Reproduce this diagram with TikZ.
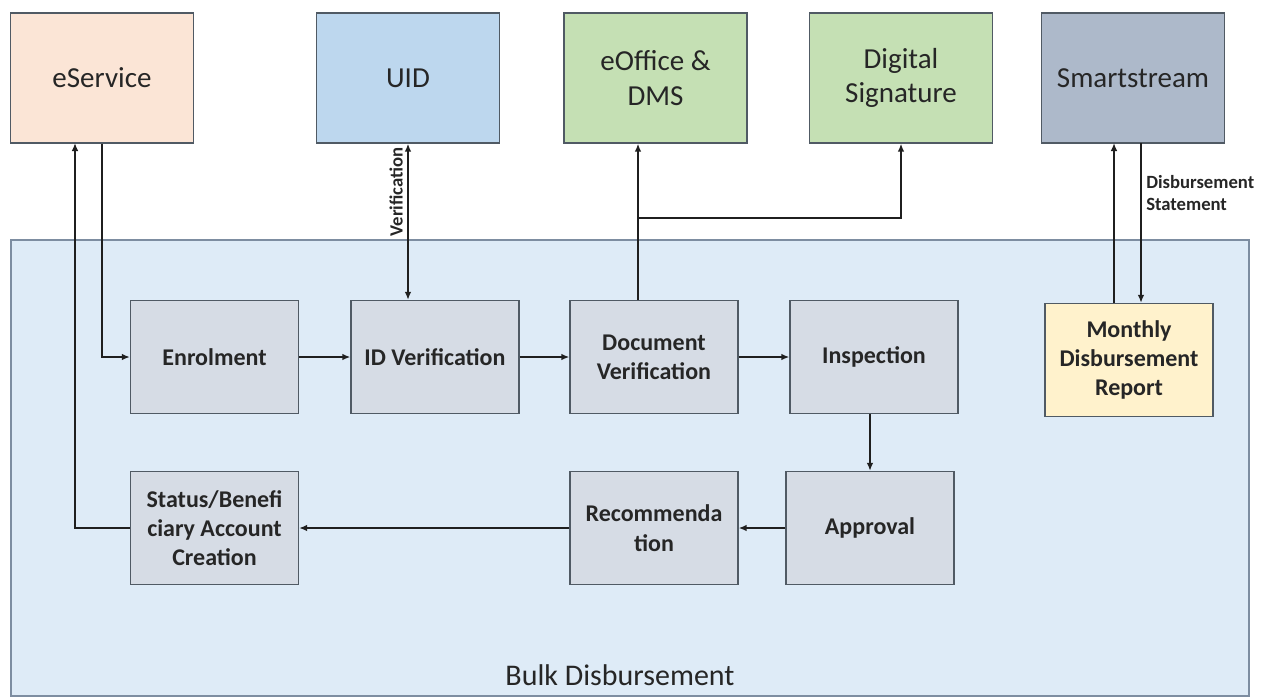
\documentclass[tikz,border=0pt]{standalone}
\usepackage{fontspec}
\setmainfont{Carlito}
\usepackage{tikz}
\usetikzlibrary{arrows.meta}
\usepackage{xcolor}
\definecolor{peach}{HTML}{FBE5D6}
\definecolor{uidblue}{HTML}{BDD7EE}
\definecolor{sysgreen}{HTML}{C5E0B4}
\definecolor{smartgray}{HTML}{ADB9CA}
\definecolor{bulkfill}{HTML}{DEEBF7}
\definecolor{bulkline}{HTML}{7D8DA1}
\definecolor{stepfill}{HTML}{D6DCE5}
\definecolor{monthfill}{HTML}{FFF2CC}
\definecolor{boxline}{HTML}{505A64}
\definecolor{arrline}{HTML}{1F1F1F}
\definecolor{txt}{HTML}{262626}

\begin{document}
\begin{tikzpicture}[x=0.75pt,y=-0.75pt,
  sysbox/.style={draw=boxline,line width=1pt,minimum width=137.25pt,minimum height=97.5pt,
    align=center,text=txt,font=\fontsize{21.75}{26}\selectfont},
  stepbox/.style={draw=boxline,fill=stepfill,line width=1pt,minimum width=126pt,minimum height=84.75pt,
    align=center,text=txt,font=\fontsize{18}{22}\selectfont\bfseries},
  arr/.style={draw=arrline,line width=1.2pt,-{Latex[length=6pt,width=5pt]}},
  lbl/.style={text=txt,font=\fontsize{14}{16.5}\selectfont\bfseries}]
  \fill[white] (0,0) rectangle (1263,697);
  \useasboundingbox (0,0) rectangle (1263,697);

  \node (bulk) [draw=bulkline,fill=bulkfill,line width=1pt,minimum width=928.5pt,minimum height=342pt] at (630,468) {};
  \node (bulklbl) [anchor=base,text=txt,font=\fontsize{22.5}{27}\selectfont] at (620,685) {Bulk Disbursement};

  \node (eserv) [sysbox,fill=peach] at (102,78) {eService};
  \node (uid) [sysbox,fill=uidblue] at (408,78) {UID};
  \node (eoff) [sysbox,fill=sysgreen] at (655.5,78) {eOffice \&\\DMS};
  \node (digsig) [sysbox,fill=sysgreen] at (901,78) {Digital\\Signature};
  \node (smart) [sysbox,fill=smartgray] at (1133,78) {Smartstream};

  \node (enrol) [stepbox] at (214.5,357) {Enrolment};
  \node (idver) [stepbox] at (435,357) {ID Verification};
  \node (docver) [stepbox] at (654,357) {Document\\Verification};
  \node (insp) [stepbox] at (874,357) {Inspection};
  \node (month) [stepbox,fill=monthfill] at (1129,360) {Monthly\\Disbursement\\Report};
  \node (status) [stepbox] at (214.5,528) {Status/Benefi\\ciary Account\\Creation};
  \node (recom) [stepbox] at (654,528) {Recommenda\\tion};
  \node (appr) [stepbox] at (870,528) {Approval};

  \coordinate (eup) at (75,143);
  \coordinate (docup) at (638,218);
  \coordinate (smup) at (1114,143);
  \coordinate (smdown) at (1141,143);

  \draw[arr] (eserv.south) |- (enrol.west);
  \draw[arr] (status.west) -| (eup);
  \draw[arr] (enrol) -- (idver);
  \draw[arr] (idver) -- (docver);
  \draw[arr] (docver) -- (insp);
  \draw[arr,{Latex[length=6pt,width=5pt]}-{Latex[length=6pt,width=5pt]}] (idver.north -| uid.south) -- (uid.south)
    node[pos=0.69,sloped,above,lbl] {Verification};
  \draw[arr] (docup |- docver.north) -- (docup |- eoff.south);
  \draw[arr] (docup) -| (digsig.south);
  \draw[arr] (appr.north |- insp.south) -- (appr.north);
  \draw[arr] (appr) -- (recom);
  \draw[arr] (recom) -- (status);
  \draw[arr] (smup |- month.north) -- (smup);
  \draw[arr] (smdown) -- (smdown |- month.north)
    node[pos=0.31,right,align=left,lbl] {Disbursement\\Statement};
\end{tikzpicture}
\end{document}
